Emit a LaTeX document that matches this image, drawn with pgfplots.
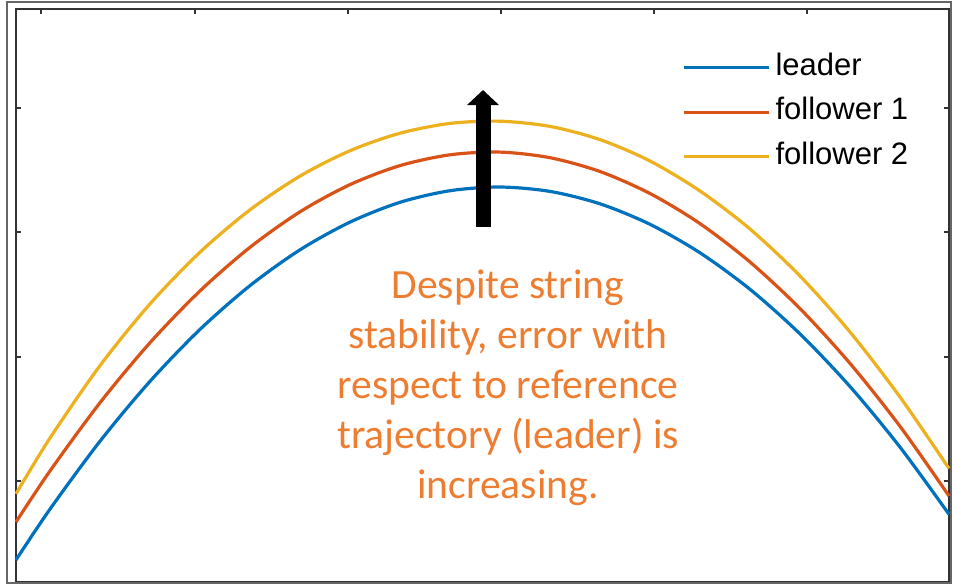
\documentclass[border=0pt]{standalone}
\usepackage{pgfplots}
\pgfplotsset{compat=1.18}
\usepackage{fontspec}
\setmainfont{Liberation Sans}
\newfontfamily\calibri{Carlito}
\usetikzlibrary{arrows.meta}
\definecolor{mblue}{rgb}{0,0.447,0.741}
\definecolor{morange}{rgb}{0.85,0.325,0.098}
\definecolor{myellow}{rgb}{0.929,0.694,0.125}
\definecolor{txtorange}{RGB}{237,125,49}
\begin{document}
\begin{tikzpicture}
\begin{axis}[
  scale only axis, width=466.5pt, height=286.5pt,
  xmin=16, xmax=949, ymin=9, ymax=582, y dir=reverse,
  clip=false,
  axis line style={black!80, line width=1pt},
  xtick={41,195,348,501,654,807}, xtick pos=right,
  ytick={108,232,357,481}, ytick pos=both,
  xticklabels={}, yticklabels={},
  tick align=inside, major tick length=2.5pt,
  every tick/.style={black!80, line width=0.8pt},
  legend image code/.code={\draw[#1] (0pt,0pt) -- (42.5pt,0pt);},
  legend cell align=left,
  legend style={draw=none, fill=none, at={(axis cs:682,45)}, anchor=north west,
    font=\fontsize{15.5}{18}\selectfont, inner sep=0pt, row sep=0pt,
    /tikz/column sep=2.5pt,
    nodes={inner sep=0pt, text height=15pt, text depth=7.25pt}},
]
\addplot[mblue, line width=1.6pt, smooth] coordinates {
(16,559.9) (50,509.1) (100,441.2) (150,381.3) (200,329.4) (250,285.6) (300,249.8)
(350,222.1) (400,202.3) (450,190.7) (500,187.0) (550,191.4) (600,203.8) (650,224.3)
(700,252.8) (750,289.3) (800,333.9) (850,386.5) (900,447.1) (949,514.3)};
\addlegendentry{leader}
\addplot[morange, line width=1.6pt, smooth] coordinates {
(16,522.0) (50,470.9) (100,402.7) (150,342.7) (200,290.9) (250,247.3) (300,211.8)
(350,184.6) (400,165.6) (450,154.8) (500,152.1) (550,157.7) (600,171.5) (650,193.5)
(700,223.6) (750,262.0) (800,308.6) (850,363.4) (900,426.3) (949,496.0)};
\addlegendentry{follower 1}
\addplot[myellow, line width=1.6pt, smooth] coordinates {
(16,493.8) (50,438.0) (100,365.6) (150,303.9) (200,252.2) (250,209.8) (300,176.1)
(350,150.7) (400,133.2) (450,123.4) (500,121.2) (550,126.4) (600,139.6) (650,161.0)
(700,191.0) (750,229.0) (800,276.0) (850,332.0) (900,397.0) (949,468.5)};
\addlegendentry{follower 2}
\draw[black, line width=7.5pt, -{Triangle[width=15.5pt,length=7.5pt]}] (axis cs:483,227) -- (axis cs:483,90);
\node[txtorange, align=center, font=\calibri\fontsize{20.8}{25}\selectfont] at (axis cs:508,388)
  {Despite string\\stability, error with\\respect to reference\\trajectory (leader) is\\increasing.};
\draw[black!60, line width=1pt] (axis cs:7,2) rectangle (axis cs:951,583);
\coordinate (bl) at (axis cs:0,586);
\coordinate (tr) at (axis cs:953,0);
\end{axis}
\pgfresetboundingbox
\path (bl) rectangle (tr);
\end{tikzpicture}
\end{document}
